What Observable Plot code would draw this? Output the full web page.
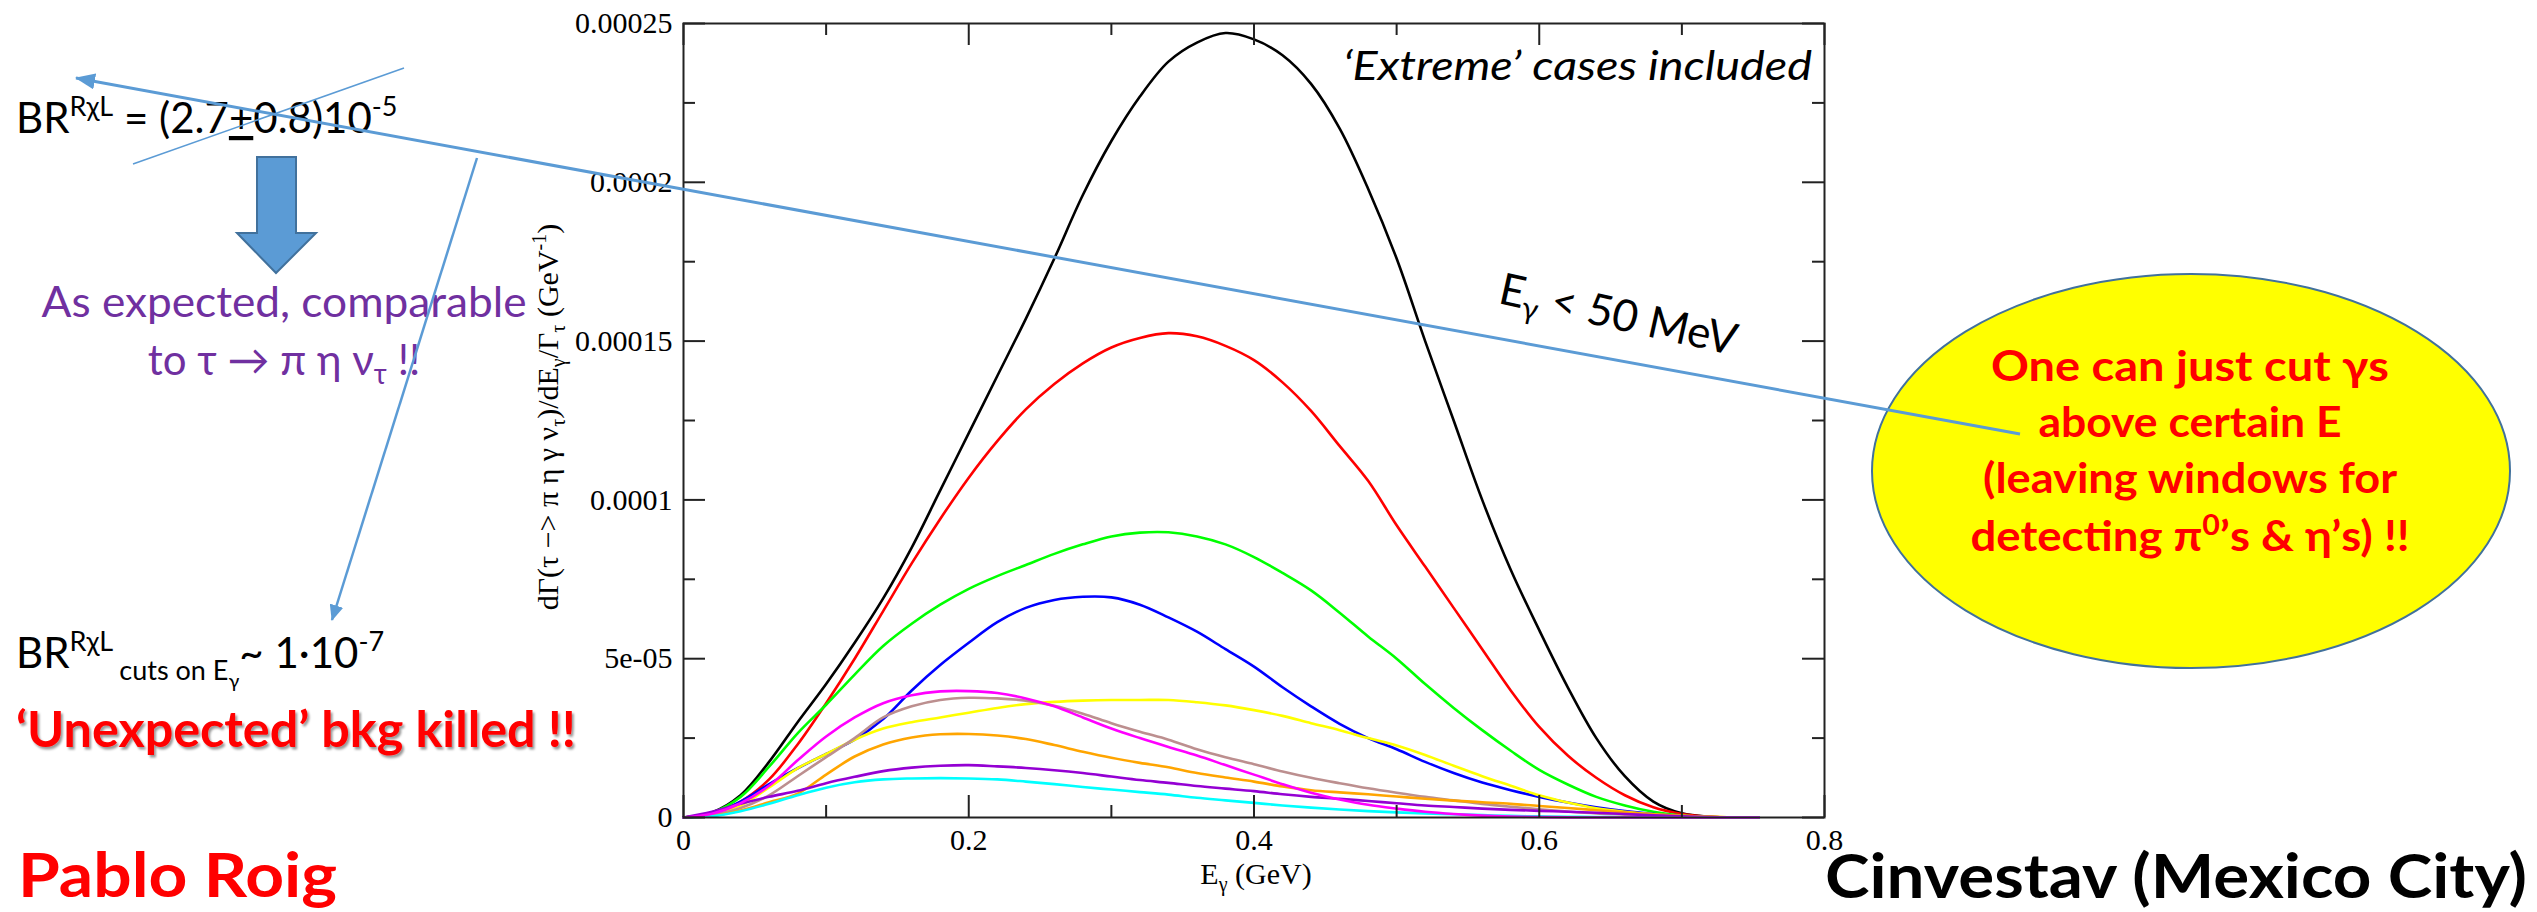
<!DOCTYPE html>
<html>
<head>
<meta charset="utf-8">
<script src="https://cdn.jsdelivr.net/npm/d3@7"></script>
<script src="https://cdn.jsdelivr.net/npm/@observablehq/plot@0.6"></script>
<style>
  html, body { margin: 0; padding: 0; background: #ffffff; }
  body { width: 2537px; height: 912px; position: relative; overflow: hidden; }
  #chart { position: absolute; left: 0; top: 0; }
  #ann { position: absolute; left: 0; top: 0; overflow: visible; }
</style>
</head>
<body>
<div id="chart"></div>
<svg id="ann" width="2537" height="912" font-family="Lato, 'Open Sans', sans-serif">
  <defs>
    <marker id="ah" markerUnits="userSpaceOnUse" markerWidth="20" markerHeight="16" refX="19" refY="8" orient="auto">
      <path d="M0,0 L20,8 L0,16 z" fill="#5b9bd5"/>
    </marker>
    <marker id="ah2" markerUnits="userSpaceOnUse" markerWidth="16" markerHeight="14" refX="15" refY="7" orient="auto">
      <path d="M0,0 L16,7 L0,14 z" fill="#5b9bd5"/>
    </marker>
    <filter id="sh" x="-5%" y="-20%" width="110%" height="160%">
      <feDropShadow dx="2" dy="2.5" stdDeviation="1.2" flood-color="#000" flood-opacity="0.4"/>
    </filter>
  </defs>

  <!-- axis titles of the plot -->
  <text transform="translate(558,417) rotate(-90)" text-anchor="middle" font-family="'Liberation Serif', serif" font-size="30" fill="#000">dΓ(τ −&gt; π η γ ν<tspan font-size="20" dy="7">τ</tspan><tspan dy="-7">)/dE</tspan><tspan font-size="20" dy="7">γ</tspan><tspan dy="-7">/Γ</tspan><tspan font-size="20" dy="7">τ</tspan><tspan dy="-7"> (GeV</tspan><tspan font-size="20" dy="-12">-1</tspan><tspan dy="12">)</tspan></text>
  <text x="1256" y="884" text-anchor="middle" font-family="'Liberation Serif', serif" font-size="30" fill="#000">E<tspan font-size="20" dy="7">γ</tspan><tspan dy="-7"> (GeV)</tspan></text>

  <!-- in-plot notes -->
  <text x="1812" y="80" text-anchor="end" font-style="italic" font-size="40" textLength="469" lengthAdjust="spacingAndGlyphs" fill="#000">‘Extreme’ cases included</text>
  <text transform="translate(1497,303) rotate(12.5)" font-size="44" fill="#000">E<tspan font-size="30" dy="9">γ</tspan><tspan dy="-9"> &lt; 50 MeV</tspan></text>

  <!-- yellow ellipse -->
  <ellipse cx="2191" cy="471" rx="319" ry="197" fill="#ffff00" stroke="#41719c" stroke-width="2"/>
  <g fill="#ff0000" font-weight="bold" font-size="42" text-anchor="middle">
    <text x="2190" y="381" textLength="398" lengthAdjust="spacingAndGlyphs">One can just cut γs</text>
    <text x="2190" y="437" textLength="303" lengthAdjust="spacingAndGlyphs">above certain E</text>
    <text x="2190" y="493" textLength="414" lengthAdjust="spacingAndGlyphs">(leaving windows for</text>
    <text x="2190" y="551" textLength="439" lengthAdjust="spacingAndGlyphs">detecting π<tspan font-size="28" dy="-16">0</tspan><tspan dy="16">’s &amp; η’s) !!</tspan></text>
  </g>

  <!-- left texts -->
  <text x="16" y="133" font-size="42" fill="#000">BR<tspan font-size="27" dy="-17">RχL</tspan><tspan dy="17"> = (2.7</tspan><tspan text-decoration="underline">+</tspan>0.8)10<tspan font-size="27" dy="-17">-5</tspan></text>
  <polygon points="257,157 296,157 296,233 316,233 276,273 237,233 257,233" fill="#5b9bd5" stroke="#41719c" stroke-width="2"/>
  <text x="284" y="317" text-anchor="middle" font-size="42" fill="#7030a0" textLength="485" lengthAdjust="spacingAndGlyphs">As expected, comparable</text>
  <text x="284" y="375" text-anchor="middle" font-size="42" fill="#7030a0">to τ → π η ν<tspan font-size="28" dy="9">τ</tspan><tspan dy="-9"> !!</tspan></text>

  <text x="16" y="668" font-size="42" fill="#000">BR<tspan font-size="27" dy="-17">RχL</tspan><tspan font-size="27" dy="29"> cuts on E</tspan><tspan font-size="20" dy="8">γ</tspan><tspan dy="-20">~ 1·10</tspan><tspan font-size="27" dy="-17">-7</tspan></text>
  <text x="16" y="747" font-size="50" font-weight="bold" fill="#ff0000" filter="url(#sh)" textLength="560" lengthAdjust="spacingAndGlyphs">‘Unexpected’ bkg killed !!</text>

  <text x="18" y="897" font-size="62" font-weight="bold" fill="#ff0000" textLength="319" lengthAdjust="spacingAndGlyphs">Pablo Roig</text>
  <text x="2527" y="898" text-anchor="end" font-size="62" font-weight="bold" fill="#000" textLength="702" lengthAdjust="spacingAndGlyphs">Cinvestav (Mexico City)</text>

  <!-- blue connector lines -->
  <line x1="133" y1="164" x2="404" y2="68" stroke="#5b9bd5" stroke-width="1.5"/>
  <line x1="2020" y1="434" x2="76" y2="78" stroke="#5b9bd5" stroke-width="3" marker-end="url(#ah)"/>
  <line x1="477" y1="158" x2="332" y2="620" stroke="#5b9bd5" stroke-width="2.5" marker-end="url(#ah2)"/>
</svg>

<script>
// ---- data ----
const energy = [0, 0.02, 0.04, 0.06, 0.08, 0.10, 0.12, 0.14, 0.16, 0.18,
  0.20, 0.22, 0.24, 0.26, 0.28, 0.30, 0.32, 0.34, 0.36, 0.38,
  0.40, 0.42, 0.44, 0.46, 0.48, 0.50, 0.52, 0.54, 0.56, 0.58,
  0.60, 0.62, 0.64, 0.66, 0.68, 0.70, 0.72, 0.74, 0.754];

const blackCurve = [0, 1.6e-6, 7e-6, 1.75e-5, 3.0e-5, 4.2e-5, 5.5e-5, 6.9e-5, 8.5e-5, 1.03e-4,
  1.21e-4, 1.39e-4, 1.57e-4, 1.76e-4, 1.96e-4, 2.13e-4, 2.27e-4, 2.38e-4, 2.44e-4, 2.47e-4,
  2.45e-4, 2.40e-4, 2.31e-4, 2.17e-4, 1.98e-4, 1.76e-4, 1.50e-4, 1.25e-4, 1.0e-4, 7.8e-5,
  5.9e-5, 4.1e-5, 2.5e-5, 1.3e-5, 5e-6, 1.3e-6, 2e-7, 0, 0];
const redCurve = [0, 1.2e-6, 5e-6, 1.2e-5, 2.3e-5, 3.6e-5, 5.0e-5, 6.5e-5, 8.0e-5, 9.4e-5,
  1.07e-4, 1.185e-4, 1.285e-4, 1.365e-4, 1.43e-4, 1.48e-4, 1.51e-4, 1.525e-4, 1.515e-4, 1.485e-4,
  1.44e-4, 1.37e-4, 1.28e-4, 1.17e-4, 1.06e-4, 9.2e-5, 7.9e-5, 6.6e-5, 5.3e-5, 4.0e-5,
  2.85e-5, 1.95e-5, 1.25e-5, 7e-6, 3.2e-6, 1.1e-6, 2e-7, 0, 0];
const greenCurve = [0, 1.5e-6, 6.5e-6, 1.6e-5, 2.65e-5, 3.55e-5, 4.5e-5, 5.4e-5, 6.1e-5, 6.7e-5,
  7.2e-5, 7.6e-5, 7.95e-5, 8.3e-5, 8.6e-5, 8.85e-5, 8.97e-5, 8.98e-5, 8.85e-5, 8.6e-5,
  8.2e-5, 7.7e-5, 7.15e-5, 6.45e-5, 5.7e-5, 5.0e-5, 4.2e-5, 3.45e-5, 2.75e-5, 2.1e-5,
  1.5e-5, 1.04e-5, 6.5e-6, 3.8e-6, 1.8e-6, 6e-7, 1e-7, 0, 0];
const blueCurve = [0, 1.2e-6, 5e-6, 1.05e-5, 1.55e-5, 2.0e-5, 2.45e-5, 3.1e-5, 4.0e-5, 4.8e-5,
  5.5e-5, 6.15e-5, 6.6e-5, 6.85e-5, 6.95e-5, 6.93e-5, 6.7e-5, 6.3e-5, 5.85e-5, 5.3e-5,
  4.75e-5, 4.1e-5, 3.5e-5, 2.95e-5, 2.5e-5, 2.15e-5, 1.75e-5, 1.4e-5, 1.1e-5, 8.6e-6,
  6.5e-6, 4.7e-6, 3.2e-6, 2e-6, 1.1e-6, 5e-7, 1e-7, 0, 0];
const yellowCurve = [0, 1e-6, 3.8e-6, 9.5e-6, 1.55e-5, 2.0e-5, 2.45e-5, 2.8e-5, 3.0e-5, 3.15e-5,
  3.3e-5, 3.45e-5, 3.57e-5, 3.64e-5, 3.68e-5, 3.7e-5, 3.7e-5, 3.7e-5, 3.63e-5, 3.53e-5,
  3.38e-5, 3.2e-5, 2.97e-5, 2.75e-5, 2.5e-5, 2.27e-5, 1.97e-5, 1.63e-5, 1.3e-5, 1.0e-5,
  7e-6, 4.7e-6, 2.9e-6, 1.8e-6, 1e-6, 5e-7, 2e-7, 0, 0];
const brownCurve = [0, 8e-7, 3e-6, 7e-6, 1.3e-5, 1.9e-5, 2.5e-5, 3.15e-5, 3.5e-5, 3.7e-5,
  3.77e-5, 3.75e-5, 3.68e-5, 3.52e-5, 3.27e-5, 2.97e-5, 2.7e-5, 2.45e-5, 2.15e-5, 1.9e-5,
  1.68e-5, 1.45e-5, 1.25e-5, 1.08e-5, 9.2e-6, 7.8e-6, 6.5e-6, 5.4e-6, 4.3e-6, 3.4e-6,
  2.6e-6, 1.9e-6, 1.3e-6, 9e-7, 5e-7, 2.5e-7, 1e-7, 0, 0];
const orangeCurve = [0, 5e-7, 2.2e-6, 4.8e-6, 7.5e-6, 1.35e-5, 1.92e-5, 2.3e-5, 2.52e-5, 2.62e-5,
  2.63e-5, 2.58e-5, 2.47e-5, 2.28e-5, 2.07e-5, 1.88e-5, 1.72e-5, 1.58e-5, 1.4e-5, 1.26e-5,
  1.13e-5, 9.8e-6, 8.6e-6, 7.9e-6, 7.3e-6, 6.6e-6, 5.9e-6, 5.3e-6, 4.8e-6, 4.3e-6,
  3.6e-6, 3e-6, 2.3e-6, 1.6e-6, 1e-6, 5e-7, 2e-7, 0, 0];
const violetCurve = [0, 1.8e-6, 4.3e-6, 6.5e-6, 8.4e-6, 1.08e-5, 1.28e-5, 1.46e-5, 1.57e-5, 1.63e-5,
  1.65e-5, 1.61e-5, 1.56e-5, 1.49e-5, 1.4e-5, 1.29e-5, 1.18e-5, 1.09e-5, 9.9e-6, 9.1e-6,
  8.3e-6, 7.3e-6, 6.5e-6, 5.9e-6, 5.2e-6, 4.5e-6, 3.8e-6, 3.3e-6, 2.8e-6, 2.4e-6,
  2.1e-6, 1.8e-6, 1.5e-6, 1.1e-6, 7e-7, 3.5e-7, 1.5e-7, 0, 0];
const cyanCurve = [0, 4e-7, 2e-6, 4.3e-6, 7e-6, 9.4e-6, 1.11e-5, 1.2e-5, 1.23e-5, 1.24e-5,
  1.23e-5, 1.2e-5, 1.13e-5, 1.05e-5, 9.6e-6, 8.8e-6, 8e-6, 7.2e-6, 6.2e-6, 5.4e-6,
  4.6e-6, 3.8e-6, 3.1e-6, 2.5e-6, 2e-6, 1.6e-6, 1.3e-6, 1e-6, 7.5e-7, 5e-7,
  3.5e-7, 2.5e-7, 1.5e-7, 1e-7, 5e-8, 0, 0, 0, 0];
const magentaCurve = [0, 1.2e-6, 4.5e-6, 1e-5, 1.8e-5, 2.55e-5, 3.15e-5, 3.6e-5, 3.85e-5, 3.97e-5,
  3.98e-5, 3.92e-5, 3.75e-5, 3.5e-5, 3.15e-5, 2.8e-5, 2.5e-5, 2.22e-5, 1.95e-5, 1.65e-5,
  1.35e-5, 1.05e-5, 7.8e-6, 5.7e-6, 4e-6, 2.8e-6, 1.8e-6, 1.1e-6, 6e-7, 3e-7,
  1.5e-7, 5e-8, 0, 0, 0, 0, 0, 0, 0];

const seriesNames = ["black", "red", "green", "blue", "yellow", "brown", "orange", "violet", "cyan", "magenta"];
const seriesColors = ["#000000", "#ff0000", "#00ff00", "#0000ff", "#ffff00", "#bc8f8f", "#ffa500", "#9400d3", "#00ffff", "#ff00ff"];
const seriesValues = [blackCurve, redCurve, greenCurve, blueCurve, yellowCurve, brownCurve, orangeCurve, violetCurve, cyanCurve, magentaCurve];

const xMajorTicks = [0, 0.2, 0.4, 0.6, 0.8];
const xMinorTicks = [0.1, 0.3, 0.5, 0.7];
const xTickLabels = ["0", "0.2", "0.4", "0.6", "0.8"];
const yMajorTicks = [0, 0.00005, 0.0001, 0.00015, 0.0002, 0.00025];
const yMinorTicks = [0.000025, 0.000075, 0.000125, 0.000175, 0.000225];
const yTickLabels = ["0", "5e-05", "0.0001", "0.00015", "0.0002", "0.00025"];

// ---- build ----
const W = 2537, H = 912;
const mL = 683, mR = 713, mT = 23, mB = 95;
const innerW = W - mL - mR, innerH = H - mT - mB;
const majorLen = 22, minorLen = 12;
const tickStyle = {stroke: "#222", strokeWidth: 2};

const lineMarks = seriesNames.map((name, k) => {
  const rows = energy.map((e, i) => ({E: e, v: seriesValues[k][i]}));
  return Plot.line(rows, {x: "E", y: "v", stroke: seriesColors[k], strokeWidth: 2.6, curve: "catmull-rom"});
});

const plot = Plot.plot({
  width: W, height: H,
  marginLeft: mL, marginRight: mR, marginTop: mT, marginBottom: mB,
  x: {domain: [0, 0.8], label: null},
  y: {domain: [0, 0.00025], label: null},
  style: {fontFamily: "'Liberation Serif', serif", fontSize: "30px", background: "transparent", color: "#000", overflow: "visible"},
  marks: [
    ...lineMarks,
    Plot.tickX(xMajorTicks, {x: d => d, insetTop: innerH - majorLen, ...tickStyle}),
    Plot.tickX(xMinorTicks, {x: d => d, insetTop: innerH - minorLen, ...tickStyle}),
    Plot.tickX(xMajorTicks, {x: d => d, insetBottom: innerH - majorLen, ...tickStyle}),
    Plot.tickX(xMinorTicks, {x: d => d, insetBottom: innerH - minorLen, ...tickStyle}),
    Plot.tickY(yMajorTicks, {y: d => d, insetRight: innerW - majorLen, ...tickStyle}),
    Plot.tickY(yMinorTicks, {y: d => d, insetRight: innerW - minorLen, ...tickStyle}),
    Plot.tickY(yMajorTicks, {y: d => d, insetLeft: innerW - majorLen, ...tickStyle}),
    Plot.tickY(yMinorTicks, {y: d => d, insetLeft: innerW - minorLen, ...tickStyle}),
    Plot.frame({stroke: "#222", strokeWidth: 2}),
    Plot.axisX(xMajorTicks, {tickSize: 0, tickPadding: 11, fontSize: 30, label: null,
      tickFormat: d => xTickLabels[xMajorTicks.indexOf(d)]}),
    Plot.axisY(yMajorTicks, {tickSize: 0, tickPadding: 11, fontSize: 30, label: null,
      tickFormat: d => yTickLabels[yMajorTicks.indexOf(d)]})
  ]
});
document.getElementById("chart").appendChild(plot);
</script>
</body>
</html>
